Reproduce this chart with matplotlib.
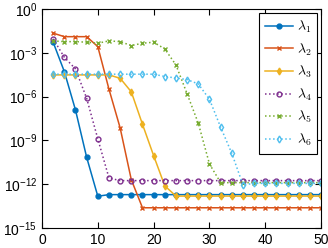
import numpy as np
import matplotlib
matplotlib.use("Agg")
import matplotlib.pyplot as plt

plt.rcParams['font.family'] = ['Liberation Sans', 'DejaVu Sans']
plt.rcParams['mathtext.fontset'] = 'custom'
plt.rcParams['mathtext.rm'] = 'Liberation Sans'
plt.rcParams['mathtext.it'] = 'Liberation Sans'

x = np.arange(2, 51, 2)

# log10 of each eigenvalue error
lam1 = [-2.28, -4.29, -6.92, -10.16, -12.83] + [-12.72] * 20
lam2 = [-1.66, -1.9, -1.9, -1.9, -2.58, -5.5, -8.15, -11.7] + [-13.62] * 17
lam3 = [-4.52] * 6 + [-4.75, -5.68, -7.9, -10.05, -12.12] + [-12.82] * 14
lam4 = [-2.05, -3.31, -4.11, -6.12, -8.9, -11.58] + [-11.76] * 19
lam5 = [-2.19, -2.24, -2.24, -2.28, -2.35, -2.19, -2.24, -2.51, -2.35, -2.28,
        -2.74, -3.84, -5.82, -7.83, -10.62, -11.9] + [-11.9] * 9
lam6 = [-4.47] * 10 + [-4.63, -4.73, -4.84, -5.14, -6.19, -8.1, -9.89, -12.05] + [-11.95] * 7

series = [lam1, lam2, lam3, lam4, lam5, lam6]
labels = [r'$\lambda_1$', r'$\lambda_2$', r'$\lambda_3$', r'$\lambda_4$', r'$\lambda_5$', r'$\lambda_6$']
colors = ['#0072BD', '#D95319', '#EDB120', '#7E2F8E', '#77AC30', '#4DBEEE']
markers = ['o', 'x', 'd', 'o', 'x', 'd']
styles = ['-', '-', '-', ':', ':', ':']

fig = plt.figure(figsize=(3.28, 2.48), dpi=100)
ax = fig.add_axes([0.128, 0.081, 0.851, 0.883])

for s, lab, c, m, ls in zip(series, labels, colors, markers, styles):
    face = c if ls == '-' and m != 'x' else 'none'
    ax.semilogy(x, 10.0 ** np.array(s), ls=ls, color=c, marker=m, markersize=3.5,
                markerfacecolor=face, markeredgewidth=1.0, linewidth=1.1, label=lab)

ax.set_xlim(0, 50)
ax.set_ylim(1e-15, 1e0)
ax.set_xticks([0, 10, 20, 30, 40, 50])
ax.set_yticks([1e0, 1e-3, 1e-6, 1e-9, 1e-12, 1e-15])
ax.yaxis.set_minor_locator(matplotlib.ticker.NullLocator())
ax.tick_params(direction='in', top=True, right=True, labelsize=10, length=4, width=0.8)
for sp in ax.spines.values():
    sp.set_linewidth(0.8)

leg = ax.legend(loc='upper right', fancybox=False, framealpha=1, edgecolor='black',
                handlelength=2.0, labelspacing=0.45, borderaxespad=0.3,
                handletextpad=0.3, borderpad=0.4, prop={'size': 10})
leg.get_frame().set_linewidth(0.8)
for t in leg.get_texts():
    t.set_math_fontfamily('cm')

fig.savefig('out.png', dpi=100)
